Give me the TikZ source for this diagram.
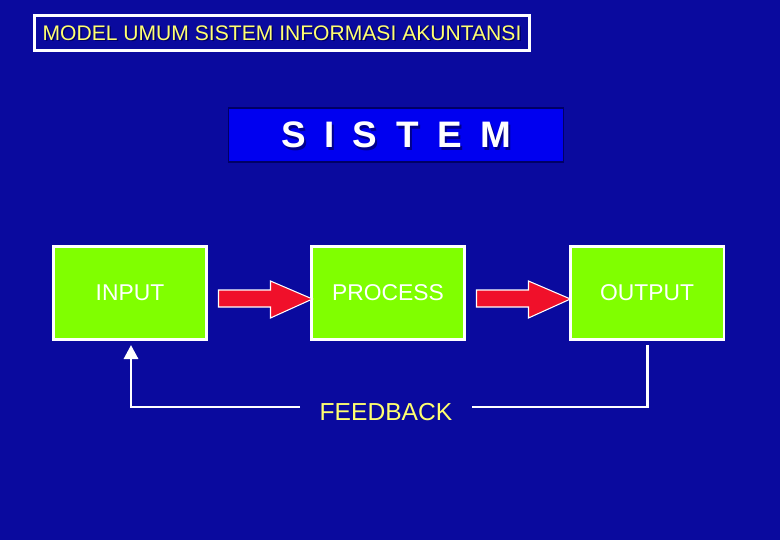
\documentclass[tikz,border=0pt]{standalone}
\usepackage{fontspec}
\setmainfont{Liberation Sans}
\usepackage{tikz}
\usetikzlibrary{positioning,arrows.meta}
\definecolor{bgblue}{HTML}{0A0A9E}
\definecolor{boxblue}{HTML}{0000F0}
\definecolor{limegreen}{HTML}{80FF00}
\definecolor{arrowred}{HTML}{F0102A}
\definecolor{ttlyellow}{HTML}{FFFF70}
\tikzset{
  stage/.style={draw=white, line width=1.7pt, fill=limegreen, minimum width=3.08cm, minimum height=1.88cm,
    text=white, font=\fontsize{13}{15}\selectfont},
  flow/.style={draw=white, line width=0.6pt, fill=arrowred},
  loop/.style={draw=white, line width=1.7pt}
}
\begin{document}
\begin{tikzpicture}[x=0.02cm, y=-0.02cm]
  \fill[bgblue] (0,0) rectangle (780,540);
  \useasboundingbox (0,0) rectangle (780,540);
  % title
  \node[text=black!60!blue, font=\fontsize{12}{14}\selectfont] at (283.5,34.5) {MODEL UMUM SISTEM INFORMASI AKUNTANSI};
  \node[draw=white, line width=1.3pt, minimum width=9.9cm, minimum height=0.7cm, text=ttlyellow,
    font=\fontsize{12}{14}\selectfont] (title) at (282,33) {MODEL UMUM SISTEM INFORMASI AKUNTANSI};
  % system box
  \node[draw=black!60!blue, line width=1pt, fill=boxblue, minimum width=6.7cm, minimum height=1.08cm] (sys) at (396,135) {};
  \node[text=black!45!blue, font=\fontsize{21}{23}\selectfont\bfseries] at (398,138) {S\,\,\,I\,\,\,S\,\,\,T\,\,\,E\,\,\,M};
  \node[text=white, font=\fontsize{21}{23}\selectfont\bfseries] at (sys) {S\,\,\,I\,\,\,S\,\,\,T\,\,\,E\,\,\,M};
  % stages
  \node[stage] (in) at (130,293) {INPUT};
  \node[stage] (proc) at (388,293) {PROCESS};
  \node[stage] (out) at (647,293) {OUTPUT};
  % arrows
  \foreach \a in {in, proc}{
    \draw[flow] (\a.east) ++(10,-3) -- ++(52,0) -- ++(0,-9) -- ++(42,18) -- ++(-42,19) -- ++(0,-11) -- ++(-52,0) -- cycle;}
  % feedback
  \node[text=ttlyellow, font=\fontsize{14}{16}\selectfont] (fb) at (386,412) {FEEDBACK};
  \coordinate (c1) at (647,407);
  \coordinate (c2) at (131,407);
  \coordinate (f1) at (472,407);
  \coordinate (f2) at (300,407);
  \draw[loop] (647,345) -- (c1) -- (f1);
  \draw[loop, -{Triangle[width=8pt,length=8pt]}] (f2) -- (c2) -- (131,345);
\end{tikzpicture}
\end{document}
